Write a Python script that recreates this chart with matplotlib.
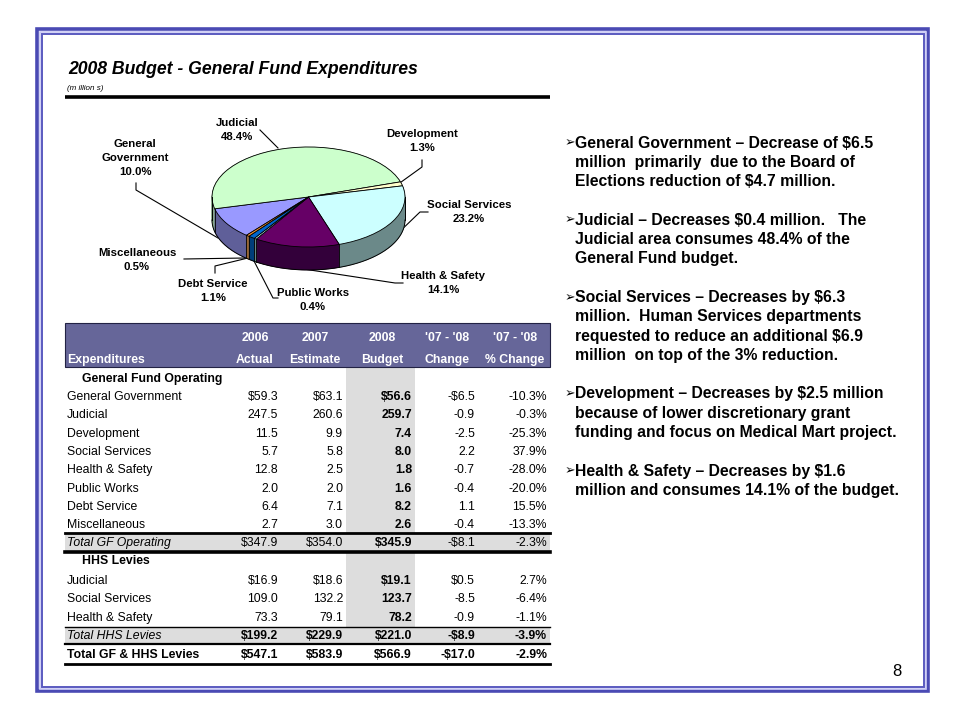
import numpy as np
import matplotlib
matplotlib.use("Agg")
import matplotlib.pyplot as plt
from matplotlib import font_manager
from matplotlib.patches import Rectangle


def have_font(name):
    try:
        font_manager.findfont(name, fallback_to_default=False)
        return True
    except Exception:
        return False


NARROW = "Liberation Sans Narrow" if have_font("Liberation Sans Narrow") else "Liberation Sans"
ARIAL = "Liberation Sans"
n_scale = 1.0 if NARROW == "Liberation Sans Narrow" else 0.82

# ---------------- data ----------------
pie_labels = ["General\nGovernment", "Judicial", "Development", "Social Services",
              "Health & Safety", "Public Works", "Debt Service", "Miscellaneous"]
pie_pct = [10.0, 48.4, 1.3, 23.2, 14.1, 0.4, 1.1, 0.5]
pie_top_colors = ["#9999ff", "#ccffcc", "#ffffcc", "#ccffff", "#660066", "#ccffff", "#0066cc", "#ff9933"]
pie_side_colors = ["#5f5f99", "#88aa88", "#aaaa88", "#6b8989", "#33003a", "#6b8989", "#003d7a", "#996633"]

header_top = ["2006", "2007", "2008", "'07 - '08", "'07 - '08"]
header_bot = ["Actual", "Estimate", "Budget", "Change", "% Change"]

gf_names = ["General Government", "Judicial", "Development", "Social Services",
            "Health & Safety", "Public Works", "Debt Service", "Miscellaneous"]
gf_2006 = [59.3, 247.5, 11.5, 5.7, 12.8, 2.0, 6.4, 2.7]
gf_2007 = [63.1, 260.6, 9.9, 5.8, 2.5, 2.0, 7.1, 3.0]
gf_2008 = [56.6, 259.7, 7.4, 8.0, 1.8, 1.6, 8.2, 2.6]
gf_chg = [-6.5, -0.9, -2.5, 2.2, -0.7, -0.4, 1.1, -0.4]
gf_pct = [-10.3, -0.3, -25.3, 37.9, -28.0, -20.0, 15.5, -13.3]
gf_total = [347.9, 354.0, 345.9, -8.1, -2.3]

hhs_names = ["Judicial", "Social Services", "Health & Safety"]
hhs_2006 = [16.9, 109.0, 73.3]
hhs_2007 = [18.6, 132.2, 79.1]
hhs_2008 = [19.1, 123.7, 78.2]
hhs_chg = [0.5, -8.5, -0.9]
hhs_pct = [2.7, -6.4, -1.1]
hhs_total = [199.2, 229.9, 221.0, -8.9, -3.9]
grand_total = [547.1, 583.9, 566.9, -17.0, -2.9]

bullets = [
    ["General Government \u2013 Decrease of $6.5",
     "million  primarily  due to the Board of",
     "Elections reduction of $4.7 million."],
    ["Judicial \u2013 Decreases $0.4 million.   The",
     "Judicial area consumes 48.4% of the",
     "General Fund budget."],
    ["Social Services \u2013 Decreases by $6.3",
     "million.  Human Services departments",
     "requested to reduce an additional $6.9",
     "million  on top of the 3% reduction."],
    ["Development \u2013 Decreases by $2.5 million",
     "because of lower discretionary grant",
     "funding and focus on Medical Mart project."],
    ["Health & Safety \u2013 Decreases by $1.6",
     "million and consumes 14.1% of the budget."],
]


def money(v, dollar=False):
    s = f"{abs(v):.1f}"
    if dollar:
        s = "$" + s
    return ("-" if v < 0 else "") + s


def pct(v):
    return f"{v:.1f}%"


# ---------------- figure ----------------
fig = plt.figure(figsize=(9.6, 7.2), dpi=100)
fig.patch.set_facecolor("white")
ax = fig.add_axes([0, 0, 1, 1])
ax.set_xlim(0, 960)
ax.set_ylim(720, 0)
ax.axis("off")

# slide border (double frame)
ax.add_patch(Rectangle((37, 29), 891, 662, fill=False, ec="#4a4ab4", lw=2.6, zorder=5))
ax.add_patch(Rectangle((39.5, 31.5), 886, 657, fill=False, ec="#c8c8f4", lw=1.2, zorder=5))
ax.add_patch(Rectangle((41.5, 33.5), 882, 653, fill=False, ec="#5a5ac0", lw=1.4, zorder=5))

# title
ax.text(68, 70, "2008 Budget - General Fund Expenditures", family=ARIAL, weight="bold",
        style="italic", fontsize=12.7, va="center", ha="left")
ax.text(67, 88, "(m illion s)", family=ARIAL, style="italic", fontsize=5.8, va="center", ha="left")
ax.plot([65, 550], [97, 97], color="black", lw=2.6, solid_capstyle="butt")

# ---------------- 3D-looking pie ----------------
cx, cy, rx, ry, depth = 308.5, 197, 96.5, 50, 23
pax = fig.add_axes([(cx - 1.3 * rx) / 960, 1 - (cy + 1.9 * ry) / 720,
                    2.6 * rx / 960, 3.2 * ry / 720])
start = 230
dz = depth / ry
for d in np.linspace(dz, 0.0, 40):
    pax.pie(pie_pct, colors=pie_side_colors, startangle=start, counterclock=False,
            center=(0, -d), wedgeprops=dict(linewidth=0.4))
    for w in pax.patches[-len(pie_pct):]:
        w.set_edgecolor(w.get_facecolor())
# outline of the bottom rim and visible slice seams
th = np.linspace(np.pi, 2 * np.pi, 200)
pax.plot(np.cos(th), np.sin(th) - dz, color="black", lw=0.7, zorder=3)
pax.plot([-1, -1], [0, -dz], color="black", lw=0.7, zorder=3)
pax.plot([1, 1], [0, -dz], color="black", lw=0.7, zorder=3)
frac = np.array(pie_pct) / np.sum(pie_pct)
bounds = start - 360 * np.cumsum(frac)
for b in bounds:
    a = np.deg2rad(b)
    if np.sin(a) < 0:
        pax.plot([np.cos(a)] * 2, [np.sin(a), np.sin(a) - dz], color="black", lw=0.6, zorder=3)
pax.pie(pie_pct, colors=pie_top_colors, startangle=start, counterclock=False,
        wedgeprops=dict(linewidth=0.6, edgecolor="black"))
pax.set_aspect("auto")
pax.set_xlim(-1.3, 1.3)
pax.set_ylim(-1.9, 1.3)
pax.axis("off")

# pie labels with leader lines (pixel coordinates of the slide)
lab_pos = [(135, 158), (237, 130), (422, 141), (469, 212),
           (443, 283), (313, 300), (213, 291), (137, 260)]
leaders = [
    [(136, 183), (136, 190), (218, 238)],
    [(260, 130), (278, 148)],
    [(422, 160), (422, 167), (397, 185)],
    [(428, 212), (420, 212), (393, 238)],
    [(403, 283), (395, 283), (297, 268)],
    [(278, 298), (273, 298), (254, 261)],
    [(215, 273), (215, 266), (248, 258)],
    [(184, 259), (245, 258)],
]
for name, p, (x, y), ln in zip(pie_labels, pie_pct, lab_pos, leaders):
    ax.text(x, y, f"{name}\n{p:.1f}%", family=NARROW, weight="bold", fontsize=8.2 if n_scale < 1 else 9.5,
            ha="center", va="center", linespacing=1.5)
    ax.plot([q[0] for q in ln], [q[1] for q in ln], color="black", lw=0.8)

# ---------------- table ----------------
L, R = 65, 550
col_right = [278, 343, 412, 475, 547]
col_center = [255, 315, 382, 447, 515]
tsize = 10.8 * n_scale

ax.add_patch(Rectangle((L, 323), R - L, 44, fc="#666699", ec="#222244", lw=0.8, zorder=1))
for cc, t1, t2 in zip(col_center, header_top, header_bot):
    ax.text(cc, 338, t1, color="white", weight="bold", family=NARROW, fontsize=tsize,
            ha="center", va="center")
    ax.text(cc, 360, t2, color="white", weight="bold", family=NARROW, fontsize=tsize,
            ha="center", va="center")
ax.text(67, 360, "Expenditures", color="white", weight="bold", family=NARROW, fontsize=tsize,
        ha="left", va="center")

# shaded 2008 column and total bands
ax.add_patch(Rectangle((346, 367), 69, 276, fc="#dddddd", ec="none", zorder=0))
ax.add_patch(Rectangle((L, 533), R - L, 19, fc="#dddddd", ec="none", zorder=0))
ax.add_patch(Rectangle((L, 627), R - L, 16, fc="#dddddd", ec="none", zorder=0))


def row(y, label, vals, fmt_dollar, label_kw, bold_cols):
    ax.text(67, y, label, family=NARROW, fontsize=tsize, ha="left", va="center", **label_kw)
    strs = [money(vals[0], fmt_dollar), money(vals[1], fmt_dollar), money(vals[2], fmt_dollar),
            money(vals[3], fmt_dollar), pct(vals[4])]
    for i, (xr, s) in enumerate(zip(col_right, strs)):
        ax.text(xr, y, s, family=NARROW, fontsize=tsize, ha="right", va="center",
                weight="bold" if i in bold_cols else "normal")


step = 18.3
ax.text(82, 379, "General Fund Operating", family=NARROW, weight="bold", fontsize=tsize,
        ha="left", va="center")
for i, nm in enumerate(gf_names):
    vals = [gf_2006[i], gf_2007[i], gf_2008[i], gf_chg[i], gf_pct[i]]
    row(397 + i * step, nm, vals, i == 0, {}, [2])

ax.plot([L, R], [533, 533], color="black", lw=2.0)
row(543, "Total GF Operating", gf_total, True, {"style": "italic"}, [2])
ax.plot([L, R], [552, 552], color="black", lw=2.6)

ax.text(82, 561, "HHS Levies", family=NARROW, weight="bold", fontsize=tsize, ha="left", va="center")
for i, nm in enumerate(hhs_names):
    vals = [hhs_2006[i], hhs_2007[i], hhs_2008[i], hhs_chg[i], hhs_pct[i]]
    row(581 + i * step, nm, vals, i == 0, {}, [2])

ax.plot([L, R], [627, 627], color="black", lw=1.0)
row(636, "Total HHS Levies", hhs_total, True, {"style": "italic"}, [0, 1, 2, 3, 4])
ax.plot([L, R], [644, 644], color="black", lw=1.6)
row(655, "Total GF & HHS Levies", grand_total, True, {"weight": "bold"}, [0, 1, 2, 3, 4])
ax.plot([L, R], [664, 664], color="black", lw=2.0)

# ---------------- bullet text ----------------
y = 143
lstep = 19.3
for para in bullets:
    ax.text(565, y, "\u27a2", family=["DejaVu Sans"], fontsize=9, ha="left", va="center")
    for line in para:
        ax.text(575, y, line, family=ARIAL, weight="bold", fontsize=11.3, ha="left", va="center")
        y += lstep
    y += lstep

ax.text(897, 672, "8", family=ARIAL, fontsize=12, ha="center", va="center")

fig.savefig("out.png", dpi=100, facecolor="white")
